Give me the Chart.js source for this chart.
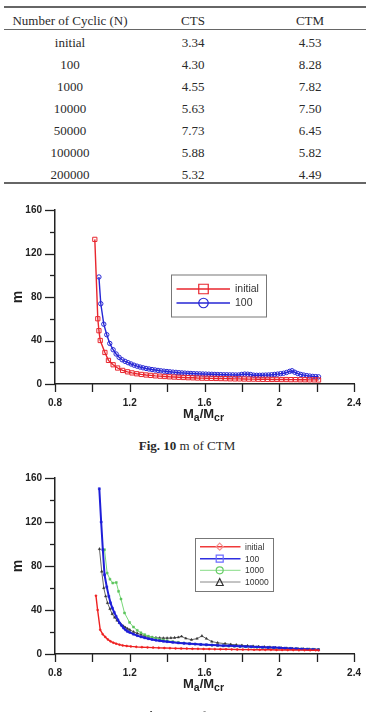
<!DOCTYPE html>
<html><head><meta charset="utf-8">
<script src="https://cdn.jsdelivr.net/npm/chart.js@4/dist/chart.umd.min.js"></script>
<style>
html,body{margin:0;padding:0;background:#fff;width:366px;height:712px;overflow:hidden;position:relative;}
.t{position:absolute;font-family:"Liberation Serif","Times New Roman",serif;font-size:13px;color:#2a2a2a;transform:translate(-50%,-50%);white-space:nowrap;line-height:1;}
.rule{position:absolute;left:4px;width:362px;background:#666;}
canvas{position:absolute;left:0;}
</style></head><body>
<div id="tbl"></div>
<canvas id="c1" width="366" height="230" style="top:195px"></canvas>
<div class="t" style="left:187px;top:445px"><b>Fig. 10</b> m of CTM</div>
<canvas id="c2" width="366" height="252" style="top:460px"></canvas>
<div class="t" style="left:187px;top:715px"><b>Fig. 11</b> m of CTS</div>
<script>
// ---- table data ----
const tableHeader = ['Number of Cyclic (N)', 'CTS', 'CTM'];
const tableCycles = ['initial','100','1000','10000','50000','100000','200000'];
const tableCTS = [3.34,4.30,4.55,5.63,7.73,5.88,5.32];
const tableCTM = [4.53,8.28,7.82,7.50,6.45,5.82,4.49];

// ---- axis ticks ----
const xTickValues = [0.8,1.0,1.2,1.4,1.6,1.8,2.0,2.2,2.4];
const yTickValues = [0,20,40,60,80,100,120,140,160];

// ---- Fig. 10 (CTM) ----
const ctmInitX = [1.013,1.029,1.035,1.042,1.067,1.086,1.111,1.135,1.162,1.188,1.212,1.237,1.262,1.287,1.312,1.337,1.362,1.387,1.412,1.437,1.462,1.487,1.512,1.537,1.562,1.587,1.612,1.637,1.662,1.687,1.712,1.737,1.762,1.787,1.812,1.837,1.862,1.887,1.912,1.937,1.962,1.987,2.012,2.037,2.062,2.087,2.112,2.137,2.162,2.187,2.21];
const ctmInitY = [133,60,49,40,29,21.7,17.7,14.7,12.5,11.2,10.2,9.4,8.8,8.3,7.9,7.5,7.2,6.9,6.6,6.4,6.2,6.0,5.8,5.7,5.5,5.4,5.3,5.2,5.1,5.0,4.9,4.8,4.7,4.7,4.6,4.5,4.5,4.4,4.3,4.3,4.2,4.2,4.1,4.1,4.0,4.0,3.9,3.9,3.8,3.8,3.7];
const ctm100X = [1.035,1.045,1.061,1.077,1.093,1.111,1.127,1.143,1.159,1.175,1.191,1.207,1.223,1.239,1.255,1.271,1.287,1.303,1.319,1.335,1.351,1.367,1.383,1.399,1.415,1.431,1.447,1.463,1.479,1.495,1.511,1.527,1.543,1.559,1.575,1.591,1.607,1.623,1.639,1.655,1.671,1.687,1.703,1.719,1.735,1.751,1.767,1.783,1.799,1.815,1.831,1.847,1.863,1.879,1.895,1.911,1.927,1.943,1.959,1.975,1.991,2.007,2.023,2.039,2.055,2.068,2.083,2.099,2.115,2.131,2.147,2.163,2.179,2.195,2.21];
const ctm100Y = [98.4,73.8,55,45.3,37.3,31.5,27.6,24.5,22.3,20.8,19.6,18.4,17.3,16.4,15.6,14.9,14.3,13.8,13.3,12.9,12.5,12.1,11.8,11.5,11.2,10.9,10.7,10.4,10.2,10.0,9.8,9.7,9.5,9.4,9.3,9.2,9.1,9.0,8.9,8.8,8.7,8.6,8.5,8.5,8.4,8.4,8.3,8.3,8.8,9.1,9.0,8.7,8.1,8.0,8.0,8.1,8.2,8.3,8.5,8.8,9.1,9.5,9.9,10.6,11.6,12.2,10.8,9.6,8.8,8.2,7.7,7.3,7.0,6.8,6.6];

// ---- Fig. 11 (CTS) ----
const ctsInitX = [1.019,1.028,1.042,1.055,1.069,1.083,1.097,1.112,1.127,1.145,1.162,1.184,1.206,1.235,1.265,1.295,1.325,1.355,1.385,1.415,1.445,1.475,1.505,1.535,1.565,1.595,1.625,1.655,1.685,1.715,1.745,1.775,1.805,1.835,1.865,1.895,1.925,1.955,1.985,2.015,2.045,2.075,2.105,2.135,2.165,2.195,2.21];
const ctsInitY = [53,40,22,18,15.5,13.2,11.5,10.3,9.4,8.5,7.8,7.3,6.9,6.5,6.2,6.0,5.8,5.6,5.4,5.3,5.1,5.0,4.9,4.8,4.7,4.6,4.5,4.4,4.3,4.3,4.2,4.1,4.0,4.0,3.9,3.9,3.8,3.8,3.7,3.7,3.6,3.6,3.5,3.5,3.4,3.4,3.3];
const cts100X = [1.037,1.047,1.056,1.065,1.077,1.088,1.097,1.107,1.117,1.127,1.137,1.146,1.157,1.167,1.178,1.188,1.2,1.22,1.24,1.26,1.28,1.3,1.32,1.34,1.36,1.38,1.4,1.43,1.46,1.49,1.52,1.55,1.58,1.61,1.64,1.67,1.7,1.73,1.76,1.79,1.82,1.85,1.88,1.91,1.94,1.97,2.0,2.03,2.06,2.09,2.12,2.15,2.18,2.21];
const cts100Y = [150.3,120,94.8,72,61,52.4,46.5,41.8,37.8,34.2,31,28.2,25.8,23.6,21.9,20.5,19.6,18.0,16.7,15.6,14.7,13.9,13.2,12.6,12.1,11.6,11.2,10.6,10.1,9.7,9.3,9.0,8.7,8.4,8.1,7.9,7.6,7.4,7.2,7.0,6.8,6.6,6.4,6.2,6.0,5.8,5.6,5.3,5.1,4.8,4.6,4.3,4.1,3.9];
const cts1000X = [1.065,1.079,1.094,1.109,1.128,1.14,1.153,1.172,1.199,1.22,1.24,1.26,1.28,1.3,1.32,1.34,1.36,1.38,1.4,1.43,1.46,1.49,1.52,1.55,1.58,1.61,1.64,1.67,1.7,1.73,1.76,1.79,1.82,1.85,1.88,1.91,1.94,1.97,2.0,2.03,2.06,2.09,2.12,2.15,2.18,2.21];
const cts1000Y = [94.8,73.6,68,64.5,65,57,50,37.3,28.7,24.5,21.5,19.3,17.6,16.2,15.1,14.2,13.4,12.7,12.1,11.3,10.6,10.0,9.5,9.1,8.7,8.3,8.0,7.7,7.4,7.2,7.0,6.7,6.5,6.3,6.1,5.9,5.7,5.5,5.3,5.1,5.0,4.8,4.6,4.5,4.3,4.1];
const cts10000X = [1.038,1.05,1.061,1.071,1.081,1.094,1.106,1.119,1.132,1.144,1.155,1.166,1.176,1.188,1.2,1.22,1.24,1.26,1.28,1.3,1.32,1.34,1.36,1.38,1.4,1.42,1.44,1.46,1.477,1.5,1.53,1.56,1.586,1.61,1.639,1.67,1.71,1.74,1.77,1.8,1.83,1.86,1.89,1.92,1.95,1.98,2.01,2.04,2.07,2.1,2.13,2.16,2.19,2.21];
const cts10000Y = [95.5,75,60,52.5,46.4,41,36.4,33.2,30.5,28.4,26.6,25.3,24.2,23.0,22.0,20.2,18.8,17.6,16.6,15.8,15.2,14.8,14.6,14.5,14.5,14.6,14.8,15.2,16.0,14.2,13.0,14.0,16.4,14.0,11.3,10.2,9.4,8.8,8.3,7.9,7.5,7.1,6.8,6.5,6.2,5.9,5.6,5.3,5.0,4.8,4.6,4.4,4.2,4.1];

// ---- build table ----
(function(){
  const tbl = document.getElementById('tbl');
  const colX = [70,193,310];
  const add = (txt,x,y)=>{const d=document.createElement('div');d.className='t';d.style.left=x+'px';d.style.top=y+'px';d.textContent=txt;tbl.appendChild(d);};
  const rule = (y,h)=>{const d=document.createElement('div');d.className='rule';d.style.top=y+'px';d.style.height=h+'px';tbl.appendChild(d);};
  rule(6,1.5); rule(29,1); rule(182,1.5);
  tableHeader.forEach((h,i)=>add(h,colX[i],19.5));
  tableCycles.forEach((c,i)=>{
    const y = 41.7 + i*22;
    add(c,colX[0],y); add(tableCTS[i].toFixed(2),colX[1],y); add(tableCTM[i].toFixed(2),colX[2],y);
  });
})();

const pts = (xs,ys)=>xs.map((x,i)=>({x:x,y:ys[i]}));

function drawMarker(ctx, style, x, y, s, color, lw){
  ctx.save(); ctx.strokeStyle=color; ctx.lineWidth=lw; ctx.beginPath();
  if(style==='rect'){ ctx.rect(x-s/2,y-s/2,s,s); }
  else if(style==='circle'){ ctx.arc(x,y,s/2,0,Math.PI*2); }
  else if(style==='rectRot'){ ctx.moveTo(x,y-s/2); ctx.lineTo(x+s/2,y); ctx.lineTo(x,y+s/2); ctx.lineTo(x-s/2,y); ctx.closePath(); }
  else if(style==='triangle'){ ctx.moveTo(x,y-s/2); ctx.lineTo(x+s/2,y+s/2); ctx.lineTo(x-s/2,y+s/2); ctx.closePath(); }
  ctx.stroke(); ctx.restore();
}

const decoPlugin = {
  id:'deco',
  afterDraw(chart, args, o){
    const ctx = chart.ctx, a = chart.chartArea, x = chart.scales.x, y = chart.scales.y;
    ctx.save();
    ctx.strokeStyle = '#222'; ctx.lineWidth = 1.3;
    xTickValues.forEach(v=>{const px=Math.round(x.getPixelForValue(v))+0.5;ctx.beginPath();ctx.moveTo(px,a.bottom);ctx.lineTo(px,a.bottom+8);ctx.stroke();});
    yTickValues.forEach(v=>{const py=Math.round(y.getPixelForValue(v))+0.5;const len=(v%40===0)?10:5;ctx.beginPath();ctx.moveTo(a.left-len,py);ctx.lineTo(a.left,py);ctx.stroke();});
    // x title M_a/M_cr
    const parts = [['M',13,0],['a',10.5,2.5],['/',13,0],['M',13,0],['cr',10.5,2.5]];
    ctx.fillStyle = '#222'; ctx.textBaseline = 'alphabetic'; ctx.textAlign='left';
    let w = 0; parts.forEach(p=>{ctx.font='bold '+p[1]+'px "Liberation Sans", Arial'; w+=ctx.measureText(p[0]).width;});
    let cx = (a.left+a.right)/2 - 1 - w/2; const by = a.bottom + 34;
    parts.forEach(p=>{ctx.font='bold '+p[1]+'px "Liberation Sans", Arial'; ctx.fillText(p[0],cx,by+p[2]); cx+=ctx.measureText(p[0]).width;});
    // y title
    ctx.save(); ctx.translate(18,(a.top+a.bottom)/2); ctx.rotate(-Math.PI/2);
    ctx.font='bold 14px "Liberation Sans", Arial'; ctx.textAlign='center'; ctx.textBaseline='middle'; ctx.fillText('m',0,0); ctx.restore();
    // legend
    const L = o.legend;
    ctx.strokeStyle='#777'; ctx.lineWidth=1;
    ctx.strokeRect(L.box[0]+0.5,L.box[1]+0.5,L.box[2],L.box[3]);
    chart.data.datasets.forEach((ds,i)=>{
      const it = L.items[i], ry = L.rows[i];
      ctx.strokeStyle = it.line; ctx.lineWidth = it.lw;
      ctx.beginPath(); ctx.moveTo(L.lineX[0],ry); ctx.lineTo(L.lineX[1],ry); ctx.stroke();
      drawMarker(ctx, it.marker, L.markX, ry, L.markSize, it.mcolor, 1.2);
      ctx.fillStyle='#333'; ctx.font=L.font; ctx.textAlign='left'; ctx.textBaseline='middle';
      ctx.fillText(ds.label, L.textX, ry+0.5);
    });
    ctx.restore();
  }
};

function makeChart(id, datasets, padTop, xHeight, legend){
  return new Chart(document.getElementById(id), {
    type:'line',
    data:{datasets:datasets},
    plugins:[decoPlugin],
    options:{
      responsive:false, animation:false, devicePixelRatio:1,
      layout:{padding:{top:padTop,right:9,left:0,bottom:0}},
      plugins:{legend:{display:false}, tooltip:{enabled:false}, deco:{legend:legend}},
      elements:{line:{tension:0}},
      scales:{
        x:{type:'linear',min:0.8,max:2.4,
           ticks:{stepSize:0.4,autoSkip:false,maxRotation:0,padding:5,color:'#222',
                  font:{family:'"Liberation Sans", Arial',weight:'bold',size:10},
                  callback:v=>String(+(+v).toFixed(1))},
           grid:{display:true,drawOnChartArea:false,tickLength:8,tickColor:'rgba(0,0,0,0)'},
           border:{display:true,color:'#222',width:1.5},
           afterFit:s=>{s.height=xHeight;}},
        y:{type:'linear',min:0,max:160,
           ticks:{stepSize:40,padding:3,color:'#222',
                  font:{family:'"Liberation Sans", Arial',weight:'bold',size:10}},
           grid:{display:true,drawOnChartArea:false,tickLength:10,tickColor:'rgba(0,0,0,0)'},
           border:{display:true,color:'#222',width:1.5},
           afterFit:s=>{s.width=55;}}
      }
    }
  });
}

makeChart('c1', [
  {label:'initial', data:pts(ctmInitX,ctmInitY), borderColor:'#e8262e', borderWidth:1.4,
   pointStyle:'rect', pointRadius:3, pointBorderColor:'#e8262e', pointBackgroundColor:'rgba(255,255,255,0)', pointBorderWidth:1},
  {label:'100', data:pts(ctm100X,ctm100Y), borderColor:'#2626d4', borderWidth:1.4,
   pointStyle:'circle', pointRadius:2.2, pointBorderColor:'#2626d4', pointBackgroundColor:'rgba(255,255,255,0)', pointBorderWidth:1}
], 15, 41, {
  box:[171,79.5,95,42], rows:[94,108], lineX:[176.5,230], markX:203.5, textX:235, markSize:9.5,
  font:'10.5px "Liberation Sans", Arial',
  items:[{line:'#e8262e',lw:1.6,marker:'rect',mcolor:'#e8262e'},{line:'#2626d4',lw:1.6,marker:'circle',mcolor:'#2626d4'}]
});

makeChart('c2', [
  {label:'initial', data:pts(ctsInitX,ctsInitY), borderColor:'#ee2020', borderWidth:1.4,
   pointStyle:'circle', pointRadius:1, pointBorderColor:'#ee2020', pointBackgroundColor:'#ee2020', pointBorderWidth:0.5},
  {label:'100', data:pts(cts100X,cts100Y), borderColor:'#1e1ed8', borderWidth:2,
   pointStyle:'rect', pointRadius:1.4, pointBorderColor:'#1e1ed8', pointBackgroundColor:'#1e1ed8', pointBorderWidth:0.5},
  {label:'1000', data:pts(cts1000X,cts1000Y), borderColor:'#78d878', borderWidth:1,
   pointStyle:'rect', pointRadius:1.4, pointBorderColor:'#5cc45c', pointBackgroundColor:'#5cc45c', pointBorderWidth:0.5},
  {label:'10000', data:pts(cts10000X,cts10000Y), borderColor:'#666', borderWidth:1,
   pointStyle:'triangle', pointRadius:1.4, pointBorderColor:'#333', pointBackgroundColor:'#333', pointBorderWidth:0.5}
], 18, 58, {
  box:[195,78,78,53], rows:[86.7,98.7,110.3,122], lineX:[200,240.5], markX:219.7, textX:245, markSize:7,
  font:'8.5px "Liberation Sans", Arial',
  items:[{line:'#f03a3a',lw:1.4,marker:'rectRot',mcolor:'#f39090'},
         {line:'#2e2ee0',lw:1.6,marker:'rect',mcolor:'#6a6aff'},
         {line:'#86dc86',lw:1,marker:'circle',mcolor:'#66cc66'},
         {line:'#888',lw:1,marker:'triangle',mcolor:'#333'}]
});
</script>
</body></html>
